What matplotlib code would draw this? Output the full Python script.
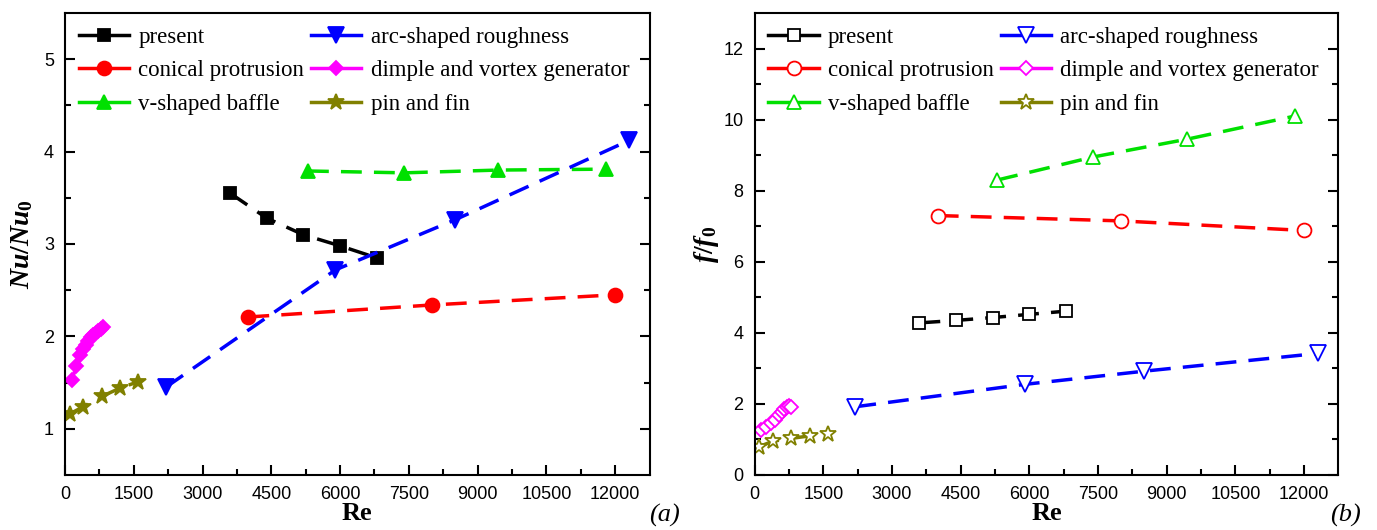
import matplotlib
matplotlib.use('Agg')
import matplotlib.pyplot as plt

# Re values and ratios
re_present = [3600, 4400, 5200, 6000, 6800]
nu_present = [3.55, 3.28, 3.10, 2.98, 2.85]
f_present = [4.28, 4.35, 4.43, 4.52, 4.61]

re_conical = [4000, 8000, 12000]
nu_conical = [2.21, 2.34, 2.45]
f_conical = [7.30, 7.15, 6.88]

re_vbaffle = [5300, 7400, 9450, 11800]
nu_vbaffle = [3.79, 3.77, 3.80, 3.81]
f_vbaffle = [8.30, 8.95, 9.45, 10.10]

re_arc = [2200, 5900, 8500, 12300]
nu_arc = [1.45, 2.72, 3.26, 4.12]
f_arc = [1.92, 2.55, 2.92, 3.42]

re_dimple_nu = [150, 250, 320, 400, 450, 500, 560, 620, 680, 730, 780, 830]
nu_dimple = [1.53, 1.68, 1.80, 1.86, 1.91, 1.95, 1.99, 2.02, 2.04, 2.06, 2.08, 2.10]
re_dimple_f = [150, 250, 350, 450, 530, 600, 650, 700, 750, 800]
f_dimple = [1.26, 1.35, 1.45, 1.56, 1.68, 1.78, 1.85, 1.90, 1.93, 1.92]

re_pin = [100, 400, 800, 1200, 1600]
nu_pin = [1.16, 1.24, 1.35, 1.44, 1.51]
f_pin = [0.80, 0.95, 1.03, 1.10, 1.15]

labels = ['present', 'conical protrusion', 'v-shaped baffle',
          'arc-shaped roughness', 'dimple and vortex generator', 'pin and fin']
colors = ['black', 'red', '#00e000', 'blue', 'magenta', '#808000']
markers = ['s', 'o', '^', 'v', 'D', '*']
msizes = [9, 10, 10, 11, 7, 12]

xticks = [0, 1500, 3000, 4500, 6000, 7500, 9000, 10500, 12000]

plt.rcParams['mathtext.fontset'] = 'custom'
plt.rcParams['mathtext.rm'] = 'Liberation Serif:bold'
plt.rcParams['mathtext.it'] = 'Liberation Serif:bold:italic'

fig = plt.figure(figsize=(13.77, 5.30), dpi=100)
ax1 = fig.add_axes([0.0472, 0.1038, 0.4245, 0.8717])
ax2 = fig.add_axes([0.5480, 0.1038, 0.4240, 0.8717])

data_nu = [(re_present, nu_present), (re_conical, nu_conical), (re_vbaffle, nu_vbaffle),
           (re_arc, nu_arc), (re_dimple_nu, nu_dimple), (re_pin, nu_pin)]
data_f = [(re_present, f_present), (re_conical, f_conical), (re_vbaffle, f_vbaffle),
          (re_arc, f_arc), (re_dimple_f, f_dimple), (re_pin, f_pin)]


def draw(ax, data, filled):
    for (x, y), lab, c, m, ms in zip(data, labels, colors, markers, msizes):
        ax.plot(x, y, linestyle=(0, (6, 3.5)), lw=2.5, color=c, marker=m, ms=ms,
                markerfacecolor=c if filled else 'white', markeredgecolor=c,
                markeredgewidth=1.3, label=lab)
    ax.set_xlim(0, 12750)
    ax.set_xticks(xticks)
    ax.set_xticks(range(750, 12750, 1500), minor=True)
    ax.tick_params(which='both', direction='in', right=True, top=False, width=1.5)
    ax.tick_params(which='major', length=7, labelsize=13, pad=8)
    ax.tick_params(which='minor', length=4)
    for t in ax.get_xticklabels() + ax.get_yticklabels():
        t.set_fontfamily('Liberation Sans')
    for s in ax.spines.values():
        s.set_linewidth(1.5)
    ax.set_xlabel('Re', fontsize=19, fontweight='bold', family='Liberation Serif', labelpad=-1)
    leg = ax.legend(loc='upper left', bbox_to_anchor=(0, 1.0), ncol=2, frameon=False,
                    handlelength=2.2, prop={'family': 'Liberation Serif', 'size': 16.5},
                    columnspacing=0.3, labelspacing=0.55, handletextpad=0.4,
                    borderaxespad=0.3, borderpad=0.3)
    for h in leg.legend_handles:
        h.set_linestyle('-')


draw(ax1, data_nu, True)
ax1.set_ylim(0.5, 5.5)
ax1.set_yticks([1, 2, 3, 4, 5])
ax1.set_yticks([1.5, 2.5, 3.5, 4.5], minor=True)
ax1.set_ylabel(r'$Nu/Nu_\mathrm{0}$', fontsize=20, labelpad=6)
fig.text(0.494, 0.015, '(a)', fontsize=19, style='italic', family='Liberation Serif', ha='right')

draw(ax2, data_f, False)
ax2.set_ylim(0, 13)
ax2.set_yticks([0, 2, 4, 6, 8, 10, 12])
ax2.set_yticks([1, 3, 5, 7, 9, 11], minor=True)
ax2.set_ylabel(r'$f/f_\mathrm{0}$', fontsize=20, labelpad=2)
fig.text(0.988, 0.015, '(b)', fontsize=19, style='italic', family='Liberation Serif', ha='right')

fig.savefig('out.png', dpi=100)
